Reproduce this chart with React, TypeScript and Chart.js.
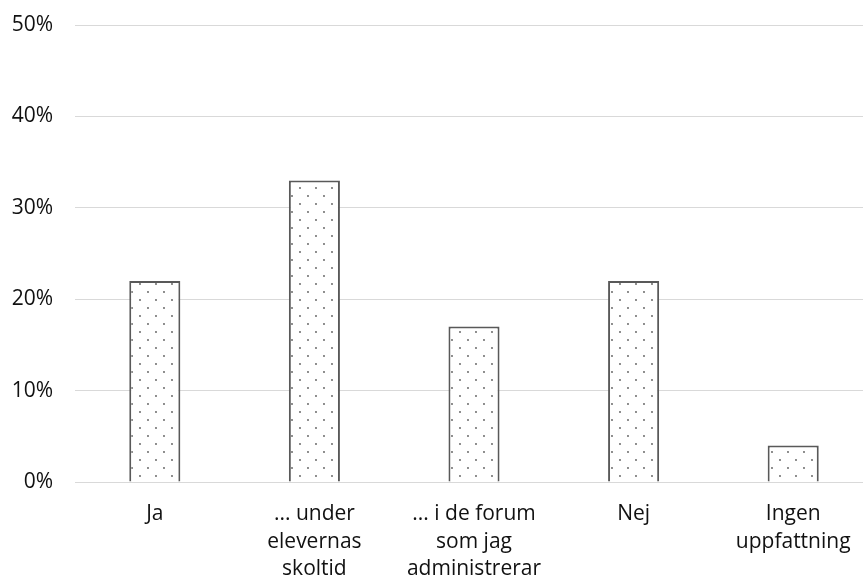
import React, { useEffect, useRef } from "react";
import { Chart, registerables } from "chart.js";

Chart.register(...registerables);

const categories: (string | string[])[] = [
  "Ja",
  ["... under", "elevernas", "skoltid"],
  ["... i de forum", "som jag", "administrerar"],
  "Nej",
  ["Ingen", "uppfattning"],
];
const values: number[] = [22, 33, 17, 22, 4];
const yTicks: number[] = [0, 10, 20, 30, 40, 50];

function makeDotPattern(ctx: CanvasRenderingContext2D): CanvasPattern | string {
  const c = document.createElement("canvas");
  c.width = 16;
  c.height = 16;
  const p = c.getContext("2d");
  if (!p) return "#fff";
  p.fillStyle = "#ffffff";
  p.fillRect(0, 0, 16, 16);
  p.fillStyle = "#5a5a5a";
  p.beginPath();
  p.arc(4, 4, 0.9, 0, Math.PI * 2);
  p.fill();
  p.beginPath();
  p.arc(12, 12, 0.9, 0, Math.PI * 2);
  p.fill();
  return ctx.createPattern(c, "repeat") || "#fff";
}

export default function App() {
  const ref = useRef<HTMLCanvasElement>(null);
  useEffect(() => {
    const canvas = ref.current;
    if (!canvas) return;
    const ctx = canvas.getContext("2d");
    if (!ctx) return;
    const pattern = makeDotPattern(ctx);
    const font = { family: "'Open Sans', sans-serif", size: 21, lineHeight: 1.32 };
    const chart = new Chart(canvas, {
      type: "bar",
      data: {
        labels: categories,
        datasets: [
          {
            data: values,
            backgroundColor: pattern as any,
            borderColor: "#595959",
            borderWidth: 2,
            barPercentage: 0.32,
            categoryPercentage: 1,
          },
        ],
      },
      options: {
        responsive: false,
        animation: false,
        devicePixelRatio: 1,
        layout: { padding: { left: 12, right: 10, top: 25, bottom: 17 } },
        plugins: { legend: { display: false }, tooltip: { enabled: false } },
        scales: {
          x: {
            grid: { display: false, drawTicks: false },
            border: { display: true, color: "#d9d9d9", width: 1 },
            ticks: { color: "#111", font, padding: 18, maxRotation: 0, autoSkip: false },
            afterFit: (axis: any) => {
              axis.height = 101;
            },
          },
          y: {
            min: 0,
            max: 50,
            afterBuildTicks: (axis: any) => {
              axis.ticks = yTicks.map((v) => ({ value: v }));
            },
            afterFit: (axis: any) => {
              axis.width = 63;
              axis.paddingTop = 0;
              axis.paddingBottom = 0;
            },
            grid: { color: "#d9d9d9", lineWidth: 1, drawTicks: false },
            border: { display: false },
            ticks: {
              color: "#111",
              font,
              padding: 22,
              callback: (v: any) => `${v}%`,
            },
          },
        },
      },
    });
    return () => chart.destroy();
  }, []);
  return (
    <div style={{ position: "fixed", left: 0, top: 0, width: 863, height: 579, overflow: "hidden", background: "#fff" }}>
      <canvas ref={ref} width={883} height={600} style={{ width: 883, height: 600, display: "block" }} />
    </div>
  );
}
